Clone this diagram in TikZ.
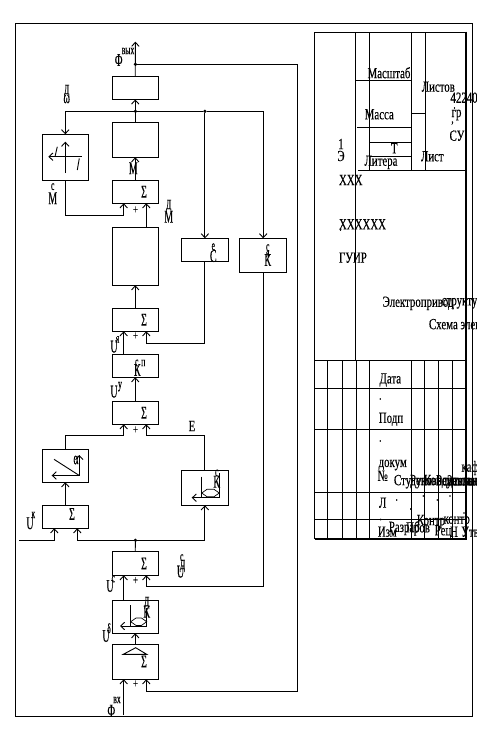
\documentclass[tikz,border=0pt]{standalone}
\usepackage{fontspec}
\setmainfont{Liberation Serif}
\newfontfamily\nf[FakeStretch=0.7,FakeBold=0.25]{Liberation Serif}
\newfontfamily\nn[FakeStretch=0.55,FakeBold=0.35]{Liberation Serif}
\usetikzlibrary{arrows.meta}
\newcounter{lb}
\tikzset{
 blk/.style={draw,rectangle,inner sep=0pt,outer sep=0pt},
 ln/.style={line width=0.9pt},
 arr/.style={line width=0.9pt,-{Straight Barb[length=4pt,width=7.5pt]}},
 dot/.style={circle,fill=black,inner sep=0pt,minimum size=3.6pt,outer sep=0pt},
 txt/.style={inner sep=0pt,outer sep=0pt,font=\nf\fontsize{15.5}{15.5}\selectfont},
 tl/.style={txt,anchor=west},
 big/.style={inner sep=0pt,outer sep=0pt,font=\nn\fontsize{18}{18}\selectfont},
 sm/.style={inner sep=0pt,outer sep=0pt,font=\nn\fontsize{14}{14}\selectfont},
 dt/.style={inner sep=0pt,outer sep=0pt,font=\nf\fontsize{13}{13}\selectfont},
}
\newcommand\blk[5]{\pgfmathsetmacro\bw{#4-#2}\pgfmathsetmacro\bh{#5-#3}%
 \node[blk,ln,minimum width=\bw pt,minimum height=\bh pt] (#1) at ({(#2+#4)/2},{(#3+#5)/2}) {};}
\newcommand\lab[3][txt]{\stepcounter{lb}\node[#1] (l\thelb) at (#2) {#3};}
\begin{document}
\begin{tikzpicture}[x=1pt,y=-1pt]
\useasboundingbox (0,0) rectangle (477,732);
\fill[white] (0,0) rectangle (477,732);
% outer frame
\draw[ln] (472,23) -- (15,23) -- (15,716.7) -- (472,716.7) -- cycle;
% column guides
\coordinate (cL) at (123.7,0);
\coordinate (cM) at (135.4,0);
\coordinate (cR) at (146.3,0);
\coordinate (cA) at (65.3,0);
\coordinate (cB) at (204.9,0);
\coordinate (cC) at (263.2,0);
% blocks
\blk{bOut}{112}{76}{158.5}{99.5}
\blk{bInt}{112}{122.3}{158.5}{157.3}
\blk{sA}{112}{180.3}{158.5}{203.3}
\blk{bBig}{112}{227}{158.5}{285.3}
\blk{sB}{112}{308.3}{158.5}{331.3}
\blk{bKp}{112}{354.3}{158.5}{377.3}
\blk{sC}{112}{401.3}{158.5}{424.3}
\blk{bFr}{42.3}{134.3}{88.5}{180.3}
\blk{bCe}{181.4}{238.3}{228.6}{261.7}
\blk{bKc}{239.4}{238.3}{286.6}{272.7}
\blk{bAl}{42.3}{449.3}{88.5}{482.3}
\blk{bKf}{181.4}{470.3}{228.6}{505.3}
\blk{sU}{42.3}{505.3}{88.5}{528.3}
\blk{sD}{112}{551.3}{158.5}{575.3}
\blk{bKd}{112}{600.3}{158.5}{633.3}
\blk{sE}{112}{644.3}{158.5}{679.3}
% junctions and free ends
\node[dot] (jOut) at (135.4,64.3) {};
\node[dot] (jW) at (135.4,111.3) {};
\node[dot] (jW2) at (204.9,111.3) {};
\node[dot] (jE) at (135.4,540.3) {};
\coordinate (top) at (135.4,41.7);
\coordinate (inL) at (19.3,540.3);
\coordinate (inB) at (123.7,715);
% connectors
\draw[arr] (bOut.north) -- (top);
\draw[ln] (jOut) -| (297.5,691.3) coordinate (fbC) -- (fbC -| cR) coordinate (fbD);
\draw[arr] (fbD) -- (sE.south -| cR);
\draw[arr] (bInt.north) -- (bOut.south);
\draw[ln] (jW) -- (jW2);
\draw[ln] (jW2) -- (cC |- jW2) coordinate (wR);
\draw[arr] (wR) -- (bKc.north -| cC);
\draw[arr] (jW2) -- (bCe.north -| cB);
\draw[arr] (jW) -| (bFr.north -| cA);
\draw[arr] (bFr.south -| cA) |- (cL |- 0,215.3) -- (sA.south -| cL);
\draw[arr] (bBig.north -| cR) -- (sA.south -| cR);
\draw[arr] (sA.north) -- (bInt.south);
\draw[arr] (sB.north) -- (bBig.south);
\draw[arr] (bKp.north -| cL) -- (sB.south -| cL);
\draw[arr] (bCe.south -| cB) |- (cR |- 0,343.3) -- (sB.south -| cR);
\draw[arr] (sC.north) -- (bKp.south);
\draw[arr] (bAl.north -| cA) |- (cL |- 0,435.7) -- (sC.south -| cL);
\draw[arr] (bKf.north -| cB) |- (cR |- 0,435.7) -- (sC.south -| cR);
\draw[arr] (sU.north -| cA) -- (bAl.south -| cA);
\draw[arr] (inL) -| (54.3,528.3);
\draw[ln] (sD.north) -- (jE);
\draw[arr] (jE) -| (bKf.south -| cB);
\draw[arr] (jE) -| (77.3,528.3);
\draw[arr] (bKd.north -| cL) -- (sD.south -| cL);
\draw[arr] (bKc.south -| cC) |- (cR |- 0,586.3) -- (sD.south -| cR);
\draw[arr] (sE.north) -- (bKd.south);
\draw[arr] (inB) -- (sE.south -| cL);
% inside chart: friction
\draw[arr] (65.3,173) -- (65.3,141.7);
\draw[arr] (81.7,156.7) -- (48.3,156.7);
\draw[ln] (57.3,146.7) -- (55,156.7);
\draw[ln] (79.3,158.3) -- (77.3,170);
% inside chart: alpha
\draw[ln] (54,459.3) -- (79.3,475.5);
\draw[arr] (79.3,475.5) -- (51.7,475.5);
\draw[arr] (79.3,475.5) -- (79.3,455);
% inside chart: Kf
\draw[ln] (201.7,476.7) -- (201.7,497.7);
\draw[arr] (219.3,497.7) -- (191.7,497.7);
\draw[ln] (219.3,473) -- (219.3,497.7);
\draw[line width=0.7pt] (201.7,493) -- (207,489.3) -- (214,489.3) -- (219.3,493) -- (214,496.7) -- (207,496.7) -- cycle;
% inside chart: Kd
\draw[ln] (130.7,605) -- (130.7,626);
\draw[arr] (146.7,626) -- (120,626);
\draw[ln] (146.7,608) -- (146.7,626);
\draw[line width=0.7pt] (130.7,621.7) -- (136,618) -- (141.5,618) -- (146.7,621.7) -- (141.5,625.4) -- (136,625.4) -- cycle;
% triangle in input block
\draw[ln] (123.3,654.3) -- (135.7,647.7) -- (146.7,654.3) -- cycle;
% sigmas
\lab[big]{144,191.7}{Σ}
\lab[big]{144,319.8}{Σ}
\lab[big]{144,412.8}{Σ}
\lab[big]{72,514}{Σ}
\lab[big]{144,563.5}{Σ}
\lab[big]{144,661.5}{Σ}
% plus signs
\lab[dt]{135.5,210}{+}
\lab[dt]{135.5,336}{+}
\lab[dt]{135.5,430}{+}
\lab[dt]{135.5,580.7}{+}
\lab[dt]{135.5,684}{+}
% diagram labels
\lab[sm]{128,51}{вых}
\lab[big]{118.7,60}{Ф}
\lab[sm]{66.7,91}{Д}
\lab[big]{66.7,99}{ω}
\lab[big]{133.3,168.3}{М}
\lab[sm]{52.7,186.7}{с}
\lab[big]{52.7,198.3}{М}
\lab[sm]{168.7,206}{Д}
\lab[big]{168.7,216.7}{М}
\lab[sm]{213.3,246.7}{е}
\lab[big]{213.3,256}{С}
\lab[sm]{267.7,247.7}{с}
\lab[big]{267.7,260}{К}
\lab[sm]{267.7,254}{я}
\lab[big]{114,346.7}{U}
\lab[sm]{117.5,339.3}{я}
\lab[sm]{136.7,363}{с}
\lab[big]{137.3,370}{К}
\lab[sm]{143.3,363}{п}
\lab[big]{114,391.7}{U}
\lab[sm]{120,386.7}{у}
\lab{192,426}{Е}
\lab[big]{76,460}{α}
\lab[sm]{216.7,473}{с}
\lab[big]{216.7,481.7}{К}
\lab[sm]{146.7,603}{Д}
\lab[big]{146.7,611.7}{К}
\lab[big]{30,523.3}{U}
\lab[sm]{33.3,515}{к}
\lab[big]{110,586}{U}
\lab[sm]{113.3,579}{с}
\lab[big]{106,636}{U}
\lab[sm]{109,628.3}{δ}
\lab[sm]{181.7,557.7}{с}
\lab[sm]{182.5,566}{Д}
\lab[big]{180.5,571.7}{U}
\lab[sm]{117,700}{вх}
\lab[big]{111.3,710.7}{Ф}
% title block
\draw[ln] (466,32) -- (314.5,32) -- (314.5,539);
\draw[line width=2pt] (466,31.5) -- (466,540);
\draw[line width=2pt] (314.5,539) -- (467,539);
\draw[ln] (355.3,32) -- (355.3,360);
\draw[ln] (369.3,32) -- (369.3,170.3);
\draw[ln] (411.3,32) -- (411.3,170.3);
\draw[ln] (425.3,32) -- (425.3,170.3);
\draw[ln] (355.3,80.3) -- (411.3,80.3);
\draw[ln] (357,127.3) -- (411.3,127.3);
\draw[ln] (369.3,142.3) -- (411.3,142.3);
\draw[ln] (369.3,156.3) -- (411.3,156.3);
\draw[ln] (411.3,113.3) -- (425.3,113.3);
\draw[ln] (358,170.3) -- (466,170.3);
\draw[ln] (314.5,360) -- (466,360);
\draw[line width=1.6pt] (327.3,360) -- (327.3,539);
\foreach \xx in {342.3,356.3,369.3,411.3,424.3,438.3,452.3} \draw[ln] (\xx,360) -- (\xx,539);
\draw[ln] (314.5,388.3) -- (466,388.3);
\draw[line width=1.3pt] (314.5,429.7) -- (466,429.7);
\draw[ln] (314.5,492) -- (466,492);
\draw[ln] (314.5,519) -- (466,519);
% title texts
\lab{389,72.7}{Масштаб}
\lab{438.3,86.7}{Листов}
\lab[tl]{450.5,97.7}{42240}
\lab{456.5,115}{гр}
\lab[dt]{454.5,108}{.}
\lab[dt]{452.5,123}{,}
\lab{457,135.7}{СУ}
\lab{379.3,114.3}{Масса}
\lab{394.3,148.3}{Т}
\lab{381,162.3}{Литера}
\lab{432.3,156.3}{Лист}
\lab{341,144}{1}
\lab{341,156}{Э}
\lab[tl]{339,180}{ХХХ}
\lab[dt]{340.5,184}{.}
\lab[tl]{339,224.3}{ХХХХХХ}
\lab[dt]{340.5,230}{.}
\lab[tl]{339,257.7}{ГУИР}
\lab[tl]{382.7,303.3}{Электропривод}
\lab[tl]{441.7,303.3}{структурная}
\lab[tl]{429,325.7}{Схема электрическая}
\lab{390.3,380}{Дата}
\lab[dt]{380.3,399}{.}
\lab{391,419.3}{Подп}
\lab[dt]{380.3,441}{.}
\lab{392.7,465}{докум}
\lab{382.7,475.7}{№}
\lab{470,468}{каф}
\lab[tl]{394,481.7}{Студент}
\lab[tl]{410,481.7}{Руководитель}
\lab[tl]{424,481.7}{Консультант}
\lab[tl]{436,481.7}{Рецензент}
\lab[tl]{447,481.7}{Зав.кафедрой}
\lab{382.7,502.7}{Л}
\foreach \dx/\dy in {396.7/500,423.3/496,437.3/500,450/496,410.7/509,464/513,380.7/519.5} {\lab[dt]{\dx,\dy}{.}}
\lab{387.3,531.7}{Изм}
\lab{404.3,528}{Разраб}
\lab{418,529}{Пров}
\lab{431,521.7}{Контр}
\lab{443,531.7}{Рец}
\lab{454,531.7}{Н}
\lab{456.7,521.7}{контр}
\lab{470,531.7}{Утв}
\end{tikzpicture}
\end{document}
